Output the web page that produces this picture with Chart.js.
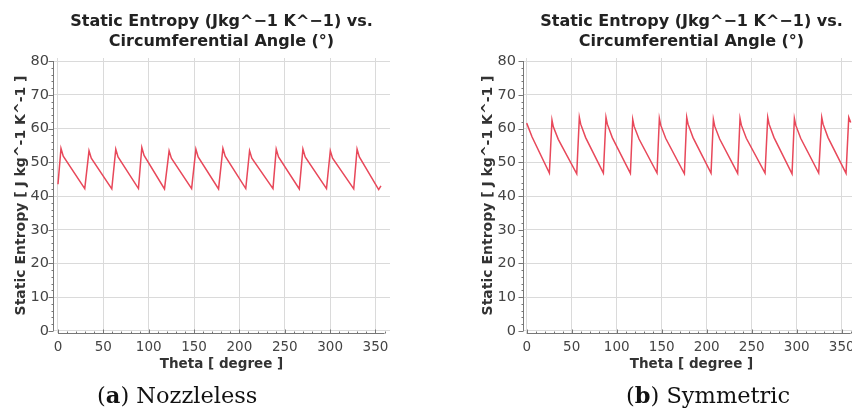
<!DOCTYPE html>
<html>
<head>
<meta charset="utf-8">
<script src="https://cdn.jsdelivr.net/npm/chart.js@4"></script>
<style>
  body { margin: 0; background: #fff; overflow: hidden; width: 852px; height: 409px; position: relative; }
  canvas { position: absolute; top: 0; }
  #chartA { left: 0; }
  #chartB { left: 426px; }
  .caption { position: absolute; top: 384px; line-height: 23px; font-family: "DejaVu Serif", serif; font-size: 22.5px; color: #111; white-space: nowrap; }
</style>
</head>
<body>
<canvas id="chartA" width="426" height="409"></canvas>
<canvas id="chartB" width="470" height="409"></canvas>
<div class="caption" style="left: 97px;">(<b>a</b>) Nozzleless</div>
<div class="caption" style="left: 626px;">(<b>b</b>) Symmetric</div>
<script>
const titleLines = ['Static Entropy (Jkg^\u22121 K^\u22121) vs.', 'Circumferential Angle (\u00b0)'];
const xTitle = 'Theta [ degree ]';
const yTitle = 'Static Entropy [ J kg^-1 K^-1 ]';

// (a) Nozzleless
const thetaA = [0, 3.3, 5.8, 29.5, 34.2, 36.7, 59.3, 63.7, 66.2, 88.7, 92.4, 94.9,
  117.4, 122.5, 125, 147.3, 152, 154.5, 177, 181.8, 184.3, 207, 211.2, 213.7,
  237, 240.6, 243.1, 266, 270, 272.5, 296, 300.2, 302.7, 326, 329.7, 332.2, 353.5, 356];
const entropyA = [43.5, 54.1, 51.8, 42.2, 53.4, 51.2, 42.1, 53.9, 51.6, 42.2, 54.4, 52.0,
  42.1, 53.4, 51.2, 42.2, 53.9, 51.6, 42.1, 54.1, 51.8, 42.2, 53.4, 51.2,
  42.2, 53.9, 51.6, 42.1, 53.9, 51.6, 42.2, 53.4, 51.2, 42.1, 53.9, 51.6, 41.9, 43.0];

// (b) Symmetric
const thetaB = [0, 6, 25.2, 28.1, 29.6, 35.1, 55.6, 58.5, 60, 65.5, 85.2, 88.1, 89.6, 95.1,
  115.2, 117.8, 119.3, 124.8, 144.8, 147.4, 148.9, 154.4, 175.2, 177.8, 179.3, 184.8,
  204.8, 207.4, 208.9, 214.4, 234.4, 237, 238.5, 244, 264.8, 267.8, 269.3, 274.8,
  294.8, 297.4, 298.9, 304.4, 324.4, 327.8, 329.3, 334.8, 354.8, 357.8, 360];
const entropyB = [61.6, 57.5, 46.8, 62.5, 60.5, 56.8, 46.6, 63.3, 61.3, 57.3, 46.8, 63.3, 61.3, 57.3,
  46.7, 62.7, 60.7, 56.9, 46.8, 63.0, 61.0, 57.1, 46.6, 63.3, 61.3, 57.3,
  46.8, 62.7, 60.7, 56.9, 46.7, 63.0, 61.0, 57.1, 46.8, 63.3, 61.3, 57.3,
  46.6, 63.0, 61.0, 57.1, 46.8, 63.3, 61.3, 57.3, 46.7, 63.3, 61.8];

const FONT = 'DejaVu Sans';

// axis lines with major / minor tick marks, drawn like the CFD-Post plot
const axisLines = {
  id: 'axisLines',
  afterDraw(chart) {
    const { ctx, chartArea, scales: { x, y } } = chart;
    const xl = chartArea.left + 0.5;
    const yb = chartArea.bottom + 0.5;
    ctx.save();
    ctx.strokeStyle = '#777';
    ctx.lineWidth = 1;
    ctx.beginPath();
    ctx.moveTo(xl, y.getPixelForValue(0));
    ctx.lineTo(xl, y.getPixelForValue(80));
    for (let v = 0; v <= 80; v += 2) {
      const p = Math.round(y.getPixelForValue(v)) + 0.5;
      const len = v % 10 === 0 ? 5 : 2;
      ctx.moveTo(xl - len, p);
      ctx.lineTo(xl, p);
    }
    ctx.moveTo(x.getPixelForValue(0), yb);
    ctx.lineTo(x.getPixelForValue(360), yb);
    for (let v = 0; v <= 360; v += 10) {
      const p = Math.round(x.getPixelForValue(v)) + 0.5;
      const len = v % 50 === 0 ? 4 : 2;
      ctx.moveTo(p, yb - len);
      ctx.lineTo(p, yb);
    }
    ctx.stroke();
    ctx.restore();
  }
};

function makeChart(id, theta, entropy, xMin, xMax, padLeft, yWidth, tickPad) {
  const ctx = document.getElementById(id).getContext('2d');
  return new Chart(ctx, {
    type: 'line',
    data: {
      datasets: [{
        data: theta.map((t, i) => ({ x: t, y: entropy[i] })),
        borderColor: '#e8485a',
        borderWidth: 1.5,
        pointRadius: 0,
        tension: 0
      }]
    },
    options: {
      responsive: false,
      animation: false,
      layout: { padding: { left: padLeft, right: 36, top: 0, bottom: 34 } },
      plugins: {
        legend: { display: false },
        tooltip: { enabled: false },
        title: {
          display: true,
          fullSize: false,
          text: titleLines,
          color: '#222',
          font: { family: FONT, size: 16, weight: 'bold', lineHeight: 20 / 16 },
          padding: { top: 12, bottom: 6 }
        }
      },
      scales: {
        x: {
          type: 'linear',
          min: xMin,
          max: xMax,
          afterFit: s => { s.height = 42; },
          border: { display: false },
          grid: { color: '#dadada', drawTicks: false },
          ticks: {
            stepSize: 50, includeBounds: false, padding: 6, maxRotation: 0,
            color: '#444', font: { family: FONT, size: 13.5 }
          },
          title: {
            display: true, text: xTitle, color: '#333',
            font: { family: FONT, size: 13.5, weight: 'bold' },
            padding: { top: 0, bottom: 2 }
          }
        },
        y: {
          min: -0.6,
          max: 80.9,
          afterFit: s => { s.width = yWidth; },
          border: { display: false },
          grid: { color: '#dadada', drawTicks: false },
          ticks: {
            stepSize: 10, includeBounds: false, padding: tickPad,
            color: '#444', font: { family: FONT, size: 14.5 }
          },
          title: {
            display: true, text: yTitle, color: '#333',
            font: { family: FONT, size: 14, weight: 'bold' },
            padding: { top: 13, bottom: 0 }
          }
        }
      }
    },
    plugins: [axisLines]
  });
}

makeChart('chartA', thetaA, entropyA, -5.5, 366, 0, 53, 4);
makeChart('chartB', thetaB, entropyB, -4.1, 370.3, 41, 56, 7);
</script>
</body>
</html>
